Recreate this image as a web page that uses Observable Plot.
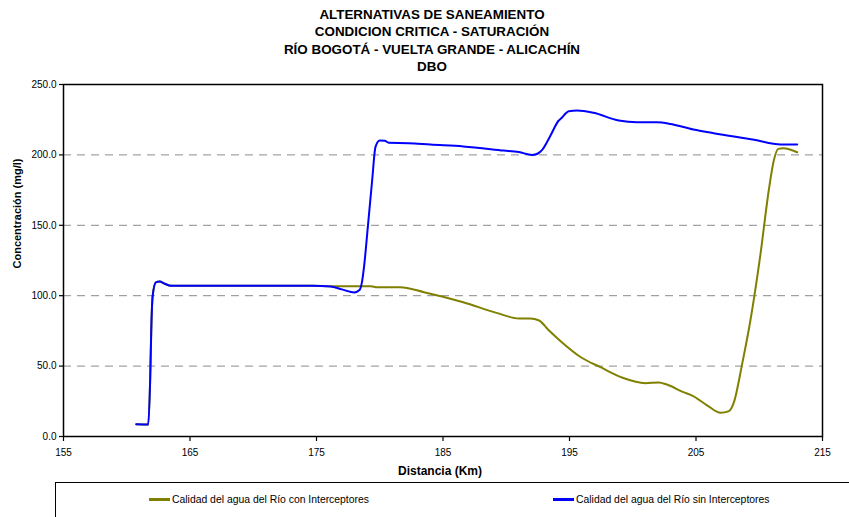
<!DOCTYPE html>
<html>
<head>
<meta charset="utf-8">
<script src="https://cdn.jsdelivr.net/npm/d3@7"></script>
<script src="https://cdn.jsdelivr.net/npm/@observablehq/plot@0.6"></script>
<style>
  html, body { margin: 0; padding: 0; background: #fff; }
  body { width: 849px; height: 517px; position: relative; overflow: hidden; font-family: "Liberation Sans", Arial, sans-serif; }
  #title { position: absolute; left: 15px; top: 6px; width: 834px; text-align: center; font-weight: bold; font-size: 13.4px; line-height: 17.3px; color: #000; }
  #chart { position: absolute; left: 0; top: 75px; }
  #legend { position: absolute; left: 55px; top: 482px; width: 800px; height: 40px; border-top: 1.5px solid #000; border-left: 1.5px solid #000; font-size: 10.4px; color: #000; }
  .item { position: absolute; top: 11px; display: flex; align-items: center; white-space: nowrap; }
  .sw { display: inline-block; width: 21px; height: 3px; margin-right: 2px; }
</style>
</head>
<body>
<div id="title">ALTERNATIVAS DE SANEAMIENTO<br>CONDICION CRITICA - SATURACIÓN<br>RÍO BOGOTÁ - VUELTA GRANDE - ALICACHÍN<br>DBO</div>
<div id="chart"></div>
<div id="legend">
  <div class="item" style="left:93px"><span class="sw" style="background:#808000"></span><span id="l1"></span></div>
  <div class="item" style="left:497px"><span class="sw" style="background:#0000ff"></span><span id="l2"></span></div>
</div>
<script>
const seriesNames = ["Calidad del agua del Río con Interceptores", "Calidad del agua del Río sin Interceptores"];
const seriesColors = ["#808000", "#0000ff"];

const kmSin = [160.75, 161.7, 161.85, 161.95, 162.05, 162.3, 162.6, 163.0, 163.5, 170, 174.7, 176.1, 177.0, 178.0, 178.4, 178.6, 178.75, 179.1, 179.4, 179.66, 180.0, 180.4, 180.7, 182.3, 184, 186.6, 189.8, 191, 192.05, 192.5, 192.84, 193.5, 194.15, 194.3, 194.95, 195.6, 196.9, 198.9, 200.35, 201.9, 203.0, 204.8, 206.4, 209.6, 211.7, 213.0];
const dboSin = [8.7, 8.5, 40, 80, 100, 109.5, 110, 108.5, 107, 107, 107, 106.5, 104.5, 102.3, 104, 110, 120, 153, 182, 205.5, 210.2, 210, 208.6, 208.3, 207.3, 206, 203.1, 202, 200, 201, 203.6, 213.8, 224.4, 225.6, 231, 231.5, 229.9, 224.4, 223.2, 223.2, 222, 218, 215.4, 210.7, 207.4, 207.4];

const kmCon = [160.75, 161.7, 161.85, 161.95, 162.05, 162.3, 162.6, 163.0, 163.5, 170, 174.7, 176.1, 178, 179.3, 179.8, 181.6, 183.5, 186.6, 189.3, 191.0, 191.9, 192.6, 193.3, 194.3, 195.9, 197.45, 199.2, 201.0, 202.05, 202.7, 204.0, 204.7, 205.9, 206.95, 207.6, 208.0, 208.65, 209.3, 210.1, 210.75, 211.15, 211.5, 211.9, 213.0];
const dboCon = [8.7, 8.5, 40, 80, 100, 109.5, 110, 108.5, 107, 107, 107, 106.8, 106.8, 106.8, 106, 106, 102.5, 95.4, 87.6, 83.8, 83.8, 82.4, 76, 67.7, 56.3, 49.2, 41.7, 37.9, 38.4, 36.9, 31.5, 29.1, 22, 16.8, 18, 24.4, 51.6, 82.4, 129.7, 174.7, 196, 204.3, 204.8, 201.9];

const xTicks = [155, 165, 175, 185, 195, 205, 215];
const yTicks = [0, 50, 100, 150, 200, 250];
const gridValues = [50, 100, 150, 200];

document.getElementById("l1").textContent = seriesNames[0];
document.getElementById("l2").textContent = seriesNames[1];

const con = kmCon.map((k, i) => ({km: k, v: dboCon[i]}));
const sin = kmSin.map((k, i) => ({km: k, v: dboSin[i]}));

const chart = Plot.plot({
  width: 849,
  height: 407,
  marginLeft: 63,
  marginRight: 27,
  marginTop: 9,
  marginBottom: 46,
  style: {fontFamily: "'Liberation Sans', Arial, sans-serif", fontSize: "10px", color: "#000", background: "#fff"},
  x: {domain: [155, 215]},
  y: {domain: [0, 250]},
  marks: [
    Plot.gridY(gridValues, {stroke: "#8c8c8c", strokeOpacity: 1, strokeDasharray: "8,6", strokeWidth: 1}),
    Plot.frame({stroke: "#000", strokeWidth: 1.5}),
    Plot.axisX(xTicks, {tickSize: 5, tickPadding: 7, label: null, strokeWidth: 1.2}),
    Plot.axisY(yTicks, {tickSize: 4, tickPadding: 3, label: null, tickFormat: d3.format(".1f"), strokeWidth: 1.2}),
    Plot.lineY(con, {x: "km", y: "v", stroke: seriesColors[0], strokeWidth: 2, curve: "monotone-x"}),
    Plot.lineY(sin, {x: "km", y: "v", stroke: seriesColors[1], strokeWidth: 2, curve: "monotone-x"}),
    Plot.text(["Distancia (Km)"], {frameAnchor: "bottom", dx: -3, dy: 38, fontWeight: "bold", fontSize: 12, text: d => d}),
    Plot.text(["Concentración (mg/l)"], {frameAnchor: "left", dx: -46, dy: 8, rotate: -90, fontWeight: "bold", fontSize: 11, text: d => d})
  ]
});
document.getElementById("chart").appendChild(chart);
</script>
</body>
</html>
